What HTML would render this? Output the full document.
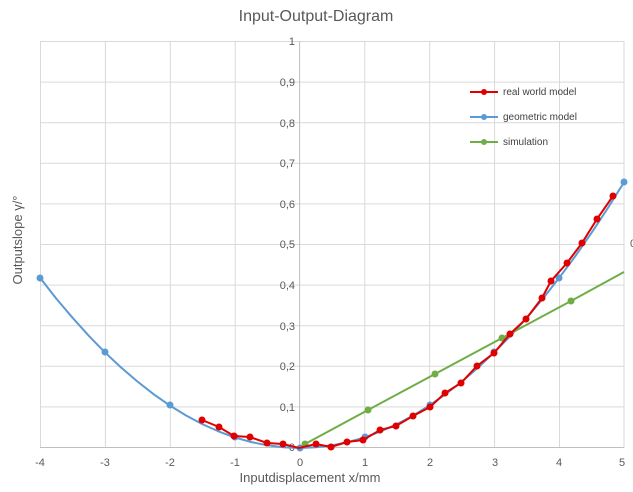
<!DOCTYPE html><html><head><style>body{margin:0;background:#fff}svg{font-family:"Liberation Sans",sans-serif}</style></head><body>
<svg width="633" height="487" xmlns="http://www.w3.org/2000/svg">
<text x="316" y="21" font-size="16" fill="#595959" text-anchor="middle">Input-Output-Diagram</text>
<g stroke="#d9d9d9" stroke-width="1">
<line x1="40" y1="41.5" x2="624" y2="41.5"/><line x1="40" y1="82.1" x2="624" y2="82.1"/><line x1="40" y1="122.7" x2="624" y2="122.7"/><line x1="40" y1="163.3" x2="624" y2="163.3"/><line x1="40" y1="203.9" x2="624" y2="203.9"/><line x1="40" y1="244.5" x2="624" y2="244.5"/><line x1="40" y1="285.1" x2="624" y2="285.1"/><line x1="40" y1="325.7" x2="624" y2="325.7"/><line x1="40" y1="366.3" x2="624" y2="366.3"/><line x1="40" y1="406.9" x2="624" y2="406.9"/>
<line x1="40.5" y1="41" x2="40.5" y2="448"/><line x1="105.4" y1="41" x2="105.4" y2="448"/><line x1="170.3" y1="41" x2="170.3" y2="448"/><line x1="235.2" y1="41" x2="235.2" y2="448"/><line x1="364.8" y1="41" x2="364.8" y2="448"/><line x1="429.7" y1="41" x2="429.7" y2="448"/><line x1="494.6" y1="41" x2="494.6" y2="448"/><line x1="559.5" y1="41" x2="559.5" y2="448"/><line x1="624" y1="41" x2="624" y2="448"/>
</g>
<g stroke="#bfbfbf"><line x1="40" y1="447.5" x2="624" y2="447.5"/><line x1="299.6" y1="41" x2="299.6" y2="448"/></g>
<g font-size="11" fill="#595959" text-anchor="end">
<text x="295" y="45">1</text><text x="295" y="86">0,9</text><text x="295" y="127">0,8</text><text x="295" y="167">0,7</text><text x="295" y="208">0,6</text><text x="295" y="248">0,5</text><text x="295" y="289">0,4</text><text x="295" y="330">0,3</text><text x="295" y="370">0,2</text><text x="295" y="411">0,1</text><text x="295" y="451">0</text></g>
<g font-size="11" fill="#595959" text-anchor="middle">
<text x="40" y="466">-4</text><text x="105" y="466">-3</text><text x="170" y="466">-2</text><text x="235" y="466">-1</text><text x="300" y="466">0</text><text x="365" y="466">1</text><text x="430" y="466">2</text><text x="495" y="466">3</text><text x="559" y="466">4</text><text x="622" y="466">5</text></g>
<text x="310" y="482" font-size="13" fill="#595959" text-anchor="middle">Inputdisplacement x/mm</text>
<text transform="translate(22,240) rotate(-90)" font-size="13" fill="#595959" text-anchor="middle">Outputslope γ/°</text>
<polyline fill="none" stroke="#5b9bd5" stroke-width="2" stroke-linejoin="round" points="40,277.8 56.2,298.5 72.5,317.7 88.7,335.7 104.9,352.3 121.2,367.6 137.4,381.5 153.6,394.2 169.8,405.5 186.1,415.5 202.3,424.1 218.5,431.4 234.7,437.4 251,442.0 267.2,445.3 283.4,447.3 299.6,448 315.8,447.3 332.1,445.3 348.3,442.0 364.5,437.4 380.7,431.4 397,424.1 413.2,415.5 429.4,405.5 445.6,394.2 461.9,381.5 478.1,367.6 494.3,352.3 510.6,335.7 526.8,317.7 543,298.5 559.2,277.8 575.5,255.9 591.7,232.6 607.9,208.0 624.1,182.1"/>
<g fill="#5b9bd5"><circle cx="40" cy="278" r="3.5"/><circle cx="105" cy="352" r="3.5"/><circle cx="170" cy="405" r="3.5"/><circle cx="235" cy="437" r="3.5"/><circle cx="300" cy="448" r="3.5"/><circle cx="365" cy="437" r="3.5"/><circle cx="430" cy="405" r="3.5"/><circle cx="494" cy="352" r="3.5"/><circle cx="559" cy="278" r="3.5"/><circle cx="624" cy="182" r="3.5"/></g>
<polyline fill="none" stroke="#70ad47" stroke-width="2" points="305,444 368,410 435,374 502,338 571,301 624,272"/>
<g fill="#70ad47"><circle cx="305" cy="444" r="3.5"/><circle cx="368" cy="410" r="3.5"/><circle cx="435" cy="374" r="3.5"/><circle cx="502" cy="338" r="3.5"/><circle cx="571" cy="301" r="3.5"/></g>
<polyline fill="none" stroke="#e00000" stroke-width="2" points="202,420 219,427 234,436 250,437 267,443 283,444 299,448 316,444 331,447 347,442 363,440 380,430 396,426 413,416 430,407 445,393 461,383 477,366 494,353 510,334 526,319 542,298 551,281 567,263 582,243 597,219 613,196"/>
<g fill="#e00000"><circle cx="202" cy="420" r="3.5"/><circle cx="219" cy="427" r="3.5"/><circle cx="234" cy="436" r="3.5"/><circle cx="250" cy="437" r="3.5"/><circle cx="267" cy="443" r="3.5"/><circle cx="283" cy="444" r="3.5"/><circle cx="316" cy="444" r="3.5"/><circle cx="331" cy="447" r="3.5"/><circle cx="347" cy="442" r="3.5"/><circle cx="363" cy="440" r="3.5"/><circle cx="380" cy="430" r="3.5"/><circle cx="396" cy="426" r="3.5"/><circle cx="413" cy="416" r="3.5"/><circle cx="430" cy="407" r="3.5"/><circle cx="445" cy="393" r="3.5"/><circle cx="461" cy="383" r="3.5"/><circle cx="477" cy="366" r="3.5"/><circle cx="494" cy="353" r="3.5"/><circle cx="510" cy="334" r="3.5"/><circle cx="526" cy="319" r="3.5"/><circle cx="542" cy="298" r="3.5"/><circle cx="551" cy="281" r="3.5"/><circle cx="567" cy="263" r="3.5"/><circle cx="582" cy="243" r="3.5"/><circle cx="597" cy="219" r="3.5"/><circle cx="613" cy="196" r="3.5"/></g>
<g font-size="10" fill="#404040">
<line x1="470" y1="92" x2="498" y2="92" stroke="#e00000" stroke-width="2"/><circle cx="484" cy="92" r="3" fill="#e00000"/><text x="503" y="95">real world model</text>
<line x1="470" y1="117" x2="498" y2="117" stroke="#5b9bd5" stroke-width="2"/><circle cx="484" cy="117" r="3" fill="#5b9bd5"/><text x="503" y="120">geometric model</text>
<line x1="470" y1="142" x2="498" y2="142" stroke="#70ad47" stroke-width="2"/><circle cx="484" cy="142" r="3" fill="#70ad47"/><text x="503" y="145">simulation</text></g>
<text x="630" y="247" font-size="11" fill="#595959">0</text>
</svg></body></html>
